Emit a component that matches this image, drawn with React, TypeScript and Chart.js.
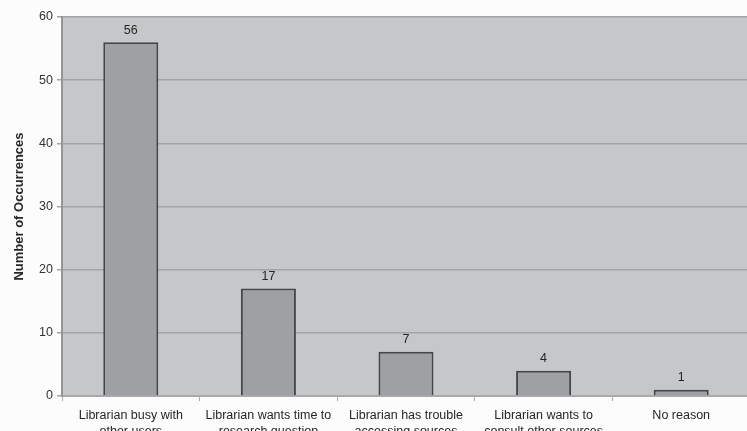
import React, { useEffect, useRef } from "react";
import { Chart, registerables } from "chart.js";

Chart.register(...registerables);

const categories: string[][] = [
  ["Librarian busy with", "other users"],
  ["Librarian wants time to", "research question"],
  ["Librarian has trouble", "accessing sources"],
  ["Librarian wants to", "consult other sources"],
  ["No reason"],
];
const occurrences: number[] = [56, 17, 7, 4, 1];
const yTicks: number[] = [0, 10, 20, 30, 40, 50, 60];

const FONT = "'Liberation Sans', Arial, sans-serif";

// Fills the plotting area with the grey panel colour.
const panelPlugin = {
  id: "panel",
  beforeDraw(chart: any) {
    const { ctx, chartArea } = chart;
    ctx.save();
    ctx.fillStyle = "#c6c7c9";
    ctx.fillRect(chartArea.left, chartArea.top, chartArea.right - chartArea.left, chartArea.bottom - chartArea.top);
    ctx.restore();
  },
};

// Writes each bar's count just above it.
const valueLabelPlugin = {
  id: "valueLabels",
  afterDatasetsDraw(chart: any) {
    const { ctx } = chart;
    const meta = chart.getDatasetMeta(0);
    ctx.save();
    ctx.font = `12.5px ${FONT}`;
    ctx.fillStyle = "#262626";
    ctx.textAlign = "center";
    ctx.textBaseline = "middle";
    meta.data.forEach((bar: any, i: number) => {
      ctx.fillText(String(occurrences[i]), bar.x, bar.y - 12);
    });
    ctx.restore();
  },
};

export default function App() {
  const canvasRef = useRef<HTMLCanvasElement | null>(null);

  useEffect(() => {
    document.body.style.margin = "0";
    document.body.style.overflow = "hidden";
    document.body.style.background = "#fcfcfc";
    const canvas = canvasRef.current;
    if (!canvas) return;
    const chart = new Chart(canvas, {
      type: "bar",
      data: {
        labels: categories,
        datasets: [
          {
            data: occurrences,
            backgroundColor: "#9fa0a3",
            borderColor: "#464648",
            borderWidth: 2,
            borderSkipped: "start",
            barPercentage: 0.4,
            categoryPercentage: 1,
          },
        ],
      },
      options: {
        animation: false,
        responsive: false,
        maintainAspectRatio: false,
        layout: { padding: { top: 17, left: 0, right: 0, bottom: 0 } },
        plugins: {
          legend: { display: false },
          tooltip: { enabled: false },
        },
        scales: {
          x: {
            grid: {
              display: true,
              offset: true,
              drawOnChartArea: false,
              drawTicks: true,
              tickLength: 5,
              color: "#a9a9ab",
            },
            border: { display: true, color: "#a9a9ab", width: 2 },
            ticks: {
              color: "#262626",
              font: { family: FONT, size: 12.5, lineHeight: 1.3 },
              padding: 6,
              maxRotation: 0,
              autoSkip: false,
            },
            afterFit: (s: any) => {
              s.height = 48;
            },
          },
          y: {
            min: 0,
            max: 60,
            afterBuildTicks: (s: any) => {
              s.ticks = yTicks.map((v) => ({ value: v }));
            },
            grid: {
              color: "#a3a4a6",
              lineWidth: 1.5,
              tickLength: 5,
            },
            border: { display: true, color: "#949597", width: 2 },
            ticks: {
              color: "#333333",
              font: { family: FONT, size: 12.5 },
              padding: 4,
            },
            title: {
              display: true,
              text: "Number of Occurrences",
              color: "#262626",
              font: { family: FONT, size: 13, weight: "bold" },
              padding: { top: 12, bottom: 0 },
            },
            afterFit: (s: any) => {
              s.width = 62;
            },
          },
        },
      },
      plugins: [panelPlugin, valueLabelPlugin],
    });
    return () => chart.destroy();
  }, []);

  return (
    <div style={{ position: "relative", width: 750, height: 444 }}>
      <canvas ref={canvasRef} width={750} height={444} style={{ display: "block" }} />
    </div>
  );
}
